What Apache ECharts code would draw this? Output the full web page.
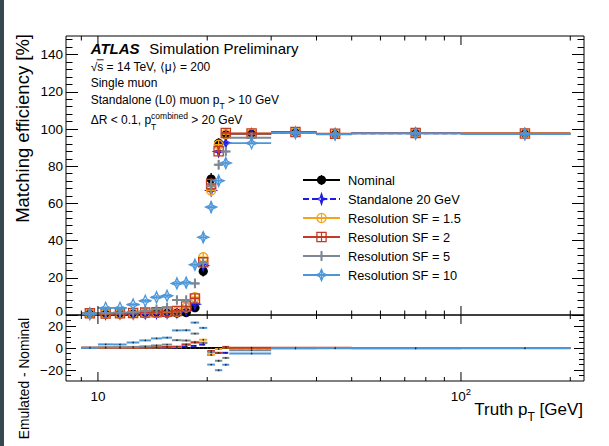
<!DOCTYPE html>
<html><head><meta charset="utf-8">
<script src="https://cdn.jsdelivr.net/npm/echarts@6/dist/echarts.min.js"></script>
<style>
html,body{margin:0;padding:0;background:#fff;}
#wrap{position:relative;width:609px;height:446px;}
#c{width:609px;height:446px;}
#strip{position:absolute;left:0;top:0;width:4px;height:446px;background:#37474f;}
</style>
</head><body>
<div id="wrap"><div id="c"></div><div id="strip"></div></div>
<script>
// ---------------- data ----------------
const binEdges = [9,10,11,12,13,14,15,16,17,18,19,20,21,22,23,30,40,50,100,200];
const nominal      = [0.6,0.5,0.6,0.6,0.7,0.8,0.9,1.0,1.3,3.9,23.5,73.1,92.4,96.9,97.4,98.2,97.3,97.8,97.5];
const standalone20 = [0.7,0.6,0.7,0.8,0.9,1.0,1.1,1.4,2.6,5.8,26.6,67.0,87.9,92.5,97.2,98.1,97.2,97.7,97.4];
const resSF1p5     = [0.8,0.7,0.8,0.9,1.1,1.3,1.5,1.8,4.0,9.5,31.0,67.0,91.5,97.3,97.5,98.3,97.4,97.9,97.6];
const resSF2       = [0.9,0.8,0.9,1.1,1.3,1.5,1.8,2.2,4.6,8.9,28.3,70.4,88.0,97.9,97.6,98.4,97.5,97.9,97.6];
const resSF5       = [0.8,1.1,1.3,1.6,2.2,3.1,4.0,8.1,8.1,17.0,28.0,69.5,80.8,87.9,95.3,97.9,97.2,97.6,97.4];
const resSF10      = [0.7,3.8,3.8,5.6,7.6,9.5,10.3,17.0,17.4,27.0,41.8,58.0,72.2,81.7,92.4,98.0,97.1,97.6,97.3];
const statErr      = [0.5,0.8,0.8,0.9,1.0,1.2,1.3,1.6,1.7,2.2,2.8,3.2,2.6,1.8,0.8,0.6,0.6,0.4,0.4];
const seriesNames  = ['Nominal','Standalone 20 GeV','Resolution SF = 1.5','Resolution SF = 2','Resolution SF = 5','Resolution SF = 10'];
const seriesValues = [nominal, standalone20, resSF1p5, resSF2, resSF5, resSF10];

const yTicksTop    = [0,20,40,60,80,100,120,140];
const yLabelsTop   = [20,40,60,80,100,120,140];   // "0" is drawn separately (half hidden by the lower pad)
const yTicksBottom = [-20,0,20];
const xMajorTicks  = [10,100];
const xMinorTicks  = [9,20,30,40,50,60,70,80,90,200];

// ---------------- style ----------------
const FONT = "'Liberation Sans', Arial, Helvetica, sans-serif";
const X_MIN = 8.166, X_MAX = 218.2;
const styles = [
  {color:'#000000', marker:'fcircle', dash:null},
  {color:'#1c1ce6', marker:'ostar4',  dash:[6,3]},
  {color:'#f5a31a', marker:'ocircle', dash:null},
  {color:'#c23b22', marker:'osquare', dash:null},
  {color:'#7d8893', marker:'fcross',  dash:null},
  {color:'#4b97da', marker:'ostarw',  dash:null}
];

function star(cx,cy,R,r){const p=[];for(let k=0;k<8;k++){const a=k*Math.PI/4-Math.PI/2;const rr=k%2===0?R:r;p.push([cx+rr*Math.cos(a),cy+rr*Math.sin(a)]);}return p;}
function plus(cx,cy,L,w){return [[cx-w,cy-L],[cx+w,cy-L],[cx+w,cy-w],[cx+L,cy-w],[cx+L,cy+w],[cx+w,cy+w],[cx+w,cy+L],[cx-w,cy+L],[cx-w,cy+w],[cx-L,cy+w],[cx-L,cy-w],[cx-w,cy-w]];}
function markerEl(kind,cx,cy,color){
  switch(kind){
    case 'fcircle': return {type:'circle',shape:{cx:cx,cy:cy,r:4.6},style:{fill:color}};
    case 'ocircle': return {type:'circle',shape:{cx:cx,cy:cy,r:4.6},style:{fill:'none',stroke:color,lineWidth:1.3}};
    case 'osquare': return {type:'rect',shape:{x:cx-4.6,y:cy-4.6,width:9.2,height:9.2},style:{fill:'none',stroke:color,lineWidth:1.3}};
    case 'ostar4':  return {type:'polygon',shape:{points:star(cx,cy,5.2,1.8)},style:{fill:'none',stroke:color,lineWidth:1.2}};
    case 'fcross':  return {type:'polygon',shape:{points:plus(cx,cy,4.8,1.0)},style:{fill:color}};
    case 'ostarw':  return {type:'polygon',shape:{points:star(cx,cy,5.6,2.4)},style:{fill:'none',stroke:color,lineWidth:1.3}};
  }
}

const mctx = document.createElement('canvas').getContext('2d');
function measure(t,font){mctx.font=font;return mctx.measureText(t).width;}
function textRun(x,y,parts,align){
  const fonts = parts.map(p=>(p.italic?'italic ':'')+(p.bold?'bold ':'')+p.size+'px '+FONT);
  let total=0; parts.forEach((p,i)=>{ if(!p.noAdvance) total+=measure(p.t,fonts[i]); });
  let cx = align==='right' ? x-total : x;
  const els=[];
  parts.forEach((p,i)=>{
    els.push({type:'text',x:cx,y:y+(p.dy||0),z:50,style:{text:p.t,font:fonts[i],fill:'#000',textAlign:'left',align:'left',textVerticalAlign:'middle',verticalAlign:'middle'}});
    if(!p.noAdvance) cx+=measure(p.t,fonts[i]);
  });
  return els;
}

// ---------------- series ----------------
function binData(vals, diff){
  return vals.map((v,i)=>[binEdges[i], binEdges[i+1], (binEdges[i]+binEdges[i+1])/2, diff ? v-nominal[i] : v, statErr[i]]);
}
function topSeries(idx){
  const st = styles[idx];
  return {
    type:'custom', name:seriesNames[idx], xAxisIndex:0, yAxisIndex:0, z:3+idx,
    encode:{x:[0,1,2], y:3}, data:binData(seriesValues[idx], false),
    renderItem:function(params, api){
      const y=api.value(3), e=api.value(4);
      const p0=api.coord([api.value(0),y]), p1=api.coord([api.value(1),y]);
      const c=api.coord([api.value(2),y]);
      const t=api.coord([api.value(2),y+e]), b=api.coord([api.value(2),Math.max(0,y-e)]);
      return {type:'group',children:[
        {type:'line',shape:{x1:p0[0],y1:p0[1],x2:p1[0],y2:p1[1]},style:{stroke:st.color,lineWidth:1.8,lineDash:st.dash}},
        {type:'line',shape:{x1:c[0],y1:t[1],x2:c[0],y2:b[1]},style:{stroke:st.color,lineWidth:1.4}},
        markerEl(st.marker,c[0],c[1],st.color)
      ]};
    }
  };
}
function bottomSeries(idx){
  const st = styles[idx];
  return {
    type:'custom', name:seriesNames[idx]+' ratio', xAxisIndex:1, yAxisIndex:4, z:3+idx,
    encode:{x:[0,1,2], y:3}, data:binData(seriesValues[idx], true),
    renderItem:function(params, api){
      const y=api.value(3);
      const p0=api.coord([api.value(0),y]), p1=api.coord([api.value(1),y]);
      const c=api.coord([api.value(2),y]);
      return {type:'group',children:[
        {type:'line',shape:{x1:p0[0],y1:p0[1],x2:p1[0],y2:p1[1]},style:{stroke:st.color,lineWidth:2,lineDash:st.dash}},
        {type:'circle',shape:{cx:c[0],cy:c[1],r:0.8},style:{fill:'#222'}}
      ]};
    }
  };
}
function tickSeries(xi, yi, yVal, L){
  const data = xMajorTicks.map(v=>[v,yVal,1]).concat(xMinorTicks.map(v=>[v,yVal,0]));
  return {
    type:'custom', xAxisIndex:xi, yAxisIndex:yi, z:20, silent:true, encode:{x:0,y:1}, data:data,
    renderItem:function(params, api){
      const cs=params.coordSys; const x=api.coord([api.value(0),yVal])[0];
      const major=api.value(2)===1;
      const lb=major?L.bm:L.bn, lt=major?L.tm:L.tn;
      return {type:'group',children:[
        {type:'line',shape:{x1:x,y1:cs.y+cs.height,x2:x,y2:cs.y+cs.height-lb},style:{stroke:'#000',lineWidth:1}},
        {type:'line',shape:{x1:x,y1:cs.y,x2:x,y2:cs.y+lt},style:{stroke:'#000',lineWidth:1}}
      ]};
    }
  };
}

// ---------------- axes ----------------
const yMinorTop=[]; for(let v=4; v<150; v+=4) yMinorTop.push(v);
const yMinorBottom=[]; for(let v=-25; v<30; v+=5) yMinorBottom.push(v);
function yAx(gi,pos,min,max,vals,len,labelVals){
  return {type:'value',gridIndex:gi,position:pos,min:min,max:max,
    axisLine:{show:false},splitLine:{show:false},
    axisTick:{show:true,inside:true,length:len,customValues:vals,lineStyle:{color:'#000',width:1}},
    axisLabel: labelVals ? {show:true,customValues:labelVals,fontSize:13.5,fontFamily:FONT,color:'#000',margin:3,
      formatter:v=> v<0 ? '\u2212'+Math.abs(v) : String(v)} : {show:false}
  };
}
const xLabelFmt = function(v){
  const l=Math.log10(v);
  if(Math.abs(l-1)<1e-6) return '{m|10}';
  if(Math.abs(l-2)<1e-6) return '{m|10}{p|2}';
  return '';
};

// ---------------- graphic (texts, legend) ----------------
const g = [];
g.push(...textRun(90.7,48.3,[{t:'ATLAS',size:15,bold:true,italic:true}]));
g.push(...textRun(149.3,48.3,[{t:'Simulation Preliminary',size:15}]));
g.push(...textRun(90.7,66.7,[{t:'\u221As = 14 TeV, \u27E8\u03BC\u27E9 = 200',size:12}]));
{ const f='12px '+FONT; const w0=measure('\u221A',f), w1=measure('\u221As',f);
  g.push({type:'line',z:50,shape:{x1:90.7+w0-0.5,y1:59.8,x2:90.7+w1+0.3,y2:59.8},style:{stroke:'#000',lineWidth:0.9}}); }
g.push(...textRun(90.7,82.5,[{t:'Single muon',size:12}]));
g.push(...textRun(90.7,99.5,[{t:'Standalone (L0) muon p',size:12},{t:'T',size:8.5,dy:6.5},{t:' > 10 GeV',size:12}]));
g.push(...textRun(90.7,119.5,[{t:'\u0394R < 0.1, p',size:12},{t:'T',size:8.5,dy:7,noAdvance:true},{t:'combined',size:8.5,dy:-4},{t:' > 20 GeV',size:12}]));

g.push({type:'text',z:50,x:22,y:34,rotation:Math.PI/2,style:{text:'Matching efficiency [%]',font:'18.5px '+FONT,fill:'#000',textAlign:'right',align:'right',textVerticalAlign:'middle',verticalAlign:'middle'}});
g.push({type:'text',z:50,x:24,y:318,rotation:Math.PI/2,style:{text:'Emulated - Nominal',font:'13.8px '+FONT,fill:'#000',textAlign:'right',align:'right',textVerticalAlign:'middle',verticalAlign:'middle'}});
g.push(...textRun(583,409.5,[{t:'Truth p',size:17},{t:'T',size:12,dy:7.5},{t:' [GeV]',size:17}],'right'));

// top-panel "0" label, lower part hidden by the lower pad
g.push({type:'text',z:50,x:63,y:311.5,style:{text:'0',font:'13.5px '+FONT,fill:'#000',textAlign:'right',align:'right',textVerticalAlign:'middle',verticalAlign:'middle'}});
g.push({type:'rect',z:100,shape:{x:40,y:315.6,width:25.4,height:4.4},style:{fill:'#fff'}});

// legend
const legendX0=303, legendX1=340, legendMX=321.5, legendTX=348, legendY0=180, legendDy=19;
seriesNames.forEach((name,i)=>{
  const y=legendY0+i*legendDy, st=styles[i];
  g.push({type:'line',z:50,shape:{x1:legendX0,y1:y,x2:legendX1,y2:y},style:{stroke:st.color,lineWidth:1.8,lineDash:st.dash}});
  g.push({type:'line',z:50,shape:{x1:legendMX,y1:y-5,x2:legendMX,y2:y+5},style:{stroke:st.color,lineWidth:1.2}});
  const m=markerEl(st.marker,legendMX,y,st.color); m.z=51; g.push(m);
  g.push({type:'text',z:50,x:legendTX,y:y,style:{text:name,font:'12.8px '+FONT,fill:'#000',textAlign:'left',align:'left',textVerticalAlign:'middle',verticalAlign:'middle'}});
});

// ---------------- chart ----------------
const chart = echarts.init(document.getElementById('c'), null, {renderer:'svg', width:609, height:446});
const series = [
  tickSeries(0,0,0,{bm:9,bn:4.5,tm:9,tn:4.5}),
  tickSeries(1,4,0,{bm:9,bn:4,tm:9,tn:4})
];
for(let i=0;i<6;i++) series.push(topSeries(i));
for(let i=0;i<6;i++) series.push(bottomSeries(i));

chart.setOption({
  animation:false,
  backgroundColor:'#fff',
  grid:[
    {left:66,top:36,width:518,height:279,show:true,borderColor:'#000',borderWidth:1,backgroundColor:'transparent',containLabel:false,outerBoundsMode:'none'},
    {left:66,top:315,width:518,height:66,show:true,borderColor:'#000',borderWidth:1,backgroundColor:'transparent',containLabel:false,outerBoundsMode:'none'}
  ],
  xAxis:[
    {type:'log',logBase:10,gridIndex:0,min:X_MIN,max:X_MAX,axisLine:{show:false},axisTick:{show:false},axisLabel:{show:false},splitLine:{show:false}},
    {type:'log',logBase:10,gridIndex:1,min:X_MIN,max:X_MAX,axisLine:{show:false},axisTick:{show:false},splitLine:{show:false},
     axisLabel:{show:true,margin:5,formatter:xLabelFmt,color:'#000',
       rich:{m:{fontSize:13.5,fontFamily:FONT,color:'#000',lineHeight:20,verticalAlign:'middle'},
             p:{fontSize:9.5,fontFamily:FONT,color:'#000',lineHeight:10,verticalAlign:'top'}}}}
  ],
  yAxis:[
    yAx(0,'left',0,150,yTicksTop,12,yLabelsTop),
    yAx(0,'left',0,150,yMinorTop,6.5,null),
    yAx(0,'right',0,150,yTicksTop,12,null),
    yAx(0,'right',0,150,yMinorTop,6.5,null),
    yAx(1,'left',-30,30,yTicksBottom,10,yTicksBottom),
    yAx(1,'left',-30,30,yMinorBottom,5,null),
    yAx(1,'right',-30,30,yTicksBottom,10,null),
    yAx(1,'right',-30,30,yMinorBottom,5,null)
  ],
  graphic:{elements:g},
  series:series
});
</script>
</body></html>
